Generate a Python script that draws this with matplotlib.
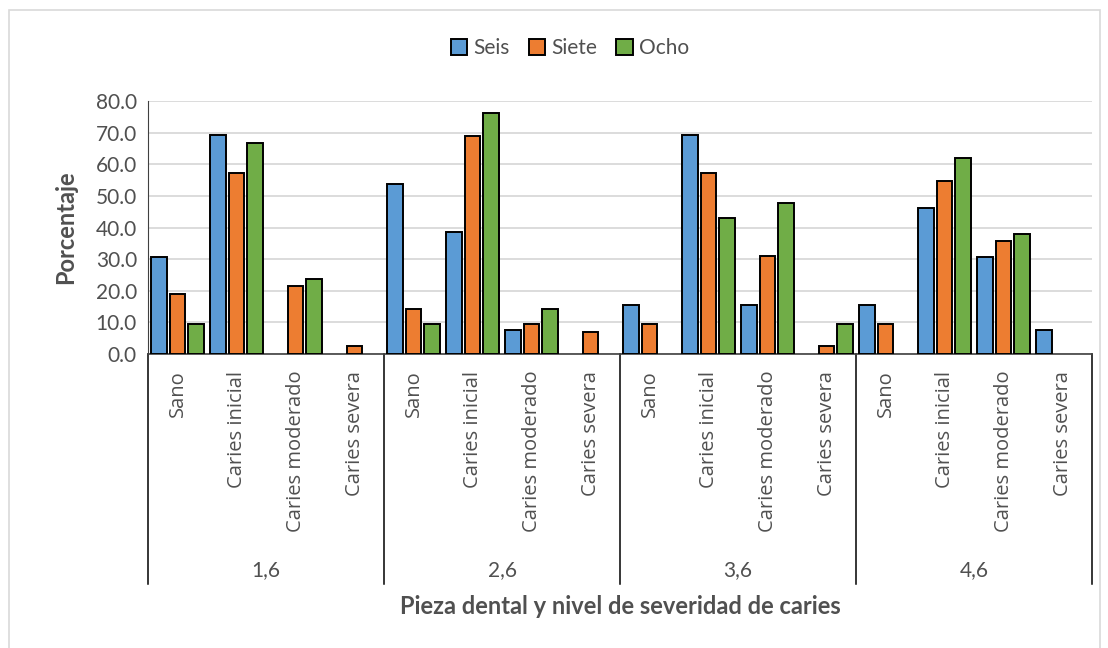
import numpy as np
import matplotlib
matplotlib.use("Agg")
import matplotlib.pyplot as plt
from matplotlib.patches import Rectangle
from matplotlib.transforms import blended_transform_factory

plt.rcParams['font.family'] = ['Lato', 'DejaVu Sans']

piezas = ["1,6", "2,6", "3,6", "4,6"]
niveles = ["Sano", "Caries inicial", "Caries moderado", "Caries severa"]
series = ["Seis", "Siete", "Ocho"]
colores = ["#5B9BD5", "#ED7D31", "#70AD47"]

# values per pieza, in order of niveles
seis = [30.8, 69.2, 0.0, 0.0,
        53.8, 38.5, 7.7, 0.0,
        15.4, 69.2, 15.4, 0.0,
        15.4, 46.2, 30.8, 7.7]
siete = [19.0, 57.1, 21.4, 2.4,
         14.3, 69.0, 9.5, 7.1,
         9.5, 57.1, 31.0, 2.4,
         9.5, 54.8, 35.7, 0.0]
ocho = [9.5, 66.7, 23.8, 0.0,
        9.5, 76.2, 14.3, 0.0,
        0.0, 42.9, 47.6, 9.5,
        0.0, 61.9, 38.1, 0.0]

txt = "#505050"

fig = plt.figure(figsize=(11.08, 6.48), dpi=100)
ax = fig.add_axes([0.1336, 0.4537, 0.852, 0.3904])

# outer chart border
fig.patches.append(Rectangle((9 / 1108, -0.01), 1091 / 1108, 0.995, transform=fig.transFigure,
                             fill=False, edgecolor="#D9D9D9", linewidth=1.2))

x = np.arange(len(seis))
w = 0.26
step = 0.315
for i, (vals, name, c) in enumerate(zip([seis, siete, ocho], series, colores)):
    lw = [1.4 if v > 0 else 0 for v in vals]
    ax.bar(x + (i - 1) * step, vals, width=w, color=c, edgecolor="black",
           linewidth=lw, label=name, zorder=3)

ax.set_xlim(-0.5, len(seis) - 0.5)
ax.set_ylim(0, 80)
ax.set_yticks(np.arange(0, 81, 10))
ax.set_yticklabels([f"{v:.1f}" for v in np.arange(0, 81, 10)], fontsize=15, color=txt)
ax.yaxis.grid(True, color="#D9D9D9", linewidth=1.3, zorder=0)
ax.tick_params(axis="y", length=0, pad=8)
for s in ["top", "right"]:
    ax.spines[s].set_visible(False)
ax.spines["left"].set_color("#404040")
ax.spines["bottom"].set_color("#404040")
ax.spines["bottom"].set_linewidth(1.2)

ax.set_xticks(x)
ax.set_xticklabels(niveles * len(piezas), rotation=90, fontsize=14.5,
                   color=txt, family=["Open Sans", "DejaVu Sans"],
                   va="top")
ax.tick_params(axis="x", length=0, pad=12)

# multi-level axis: separators and group labels
trans = blended_transform_factory(ax.transData, ax.transAxes)
n = len(niveles)
for g in range(len(piezas) + 1):
    xb = g * n - 0.5
    ax.plot([xb, xb], [0, -0.91], transform=trans, color="black",
            linewidth=1.1, clip_on=False)
for g, p in enumerate(piezas):
    ax.text(g * n + (n - 1) / 2, -0.855, p, transform=trans, ha="center",
            va="center", fontsize=15, color=txt)

ax.set_ylabel("Porcentaje", fontsize=17, fontweight="bold", color=txt, labelpad=13)
fig.text(620 / 1108, 1 - 607 / 648, "Pieza dental y nivel de severidad de caries",
         ha="center", va="center", fontsize=17, fontweight="bold", color=txt)

ax.legend(loc="center", bbox_to_anchor=((570 - 148) / 944, 1 + (101 - 48) / 253), ncol=3,
          frameon=False, fontsize=15, handlelength=0.8, handleheight=0.8,
          handletextpad=0.3, columnspacing=0.9, labelcolor=txt)

fig.savefig("out.png", dpi=100)
